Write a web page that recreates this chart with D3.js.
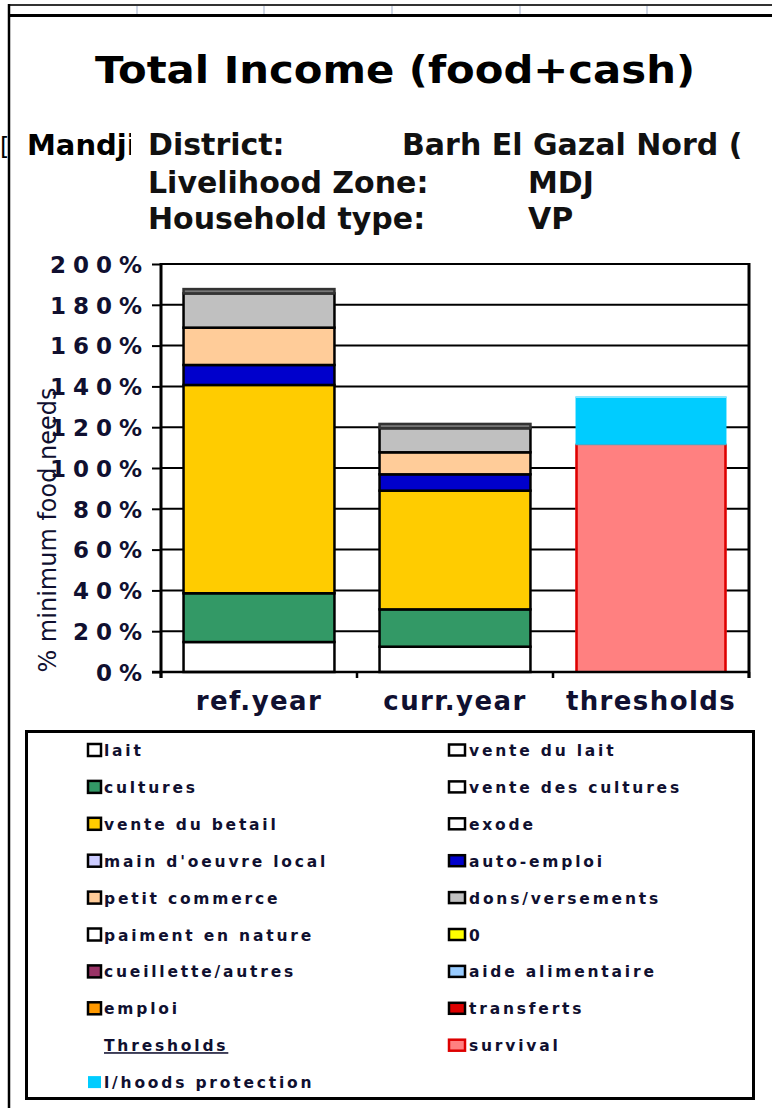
<!DOCTYPE html>
<html><head><meta charset="utf-8">
<script src="https://cdn.jsdelivr.net/npm/d3@7"></script>
<style>body{margin:0;background:#fff} svg{display:block}</style>
</head><body><svg id="c" width="772" height="1108"></svg>
<script>
// ---------- data ----------
const categories = ["ref.year", "curr.year", "thresholds"];
const seriesNames = ["lait", "vente du lait", "cultures", "vente des cultures", "vente du betail", "exode",
  "main d'oeuvre  local", "auto-emploi", "petit commerce", "dons/versements", "paiment en nature", "0",
  "cueillette/autres", "aide alimentaire", "emploi", "transferts", "survival", "l/hoods  protection"];
const seriesColors = ["#FFFFFF", "#FFFFFF", "#339966", "#FFFFFF", "#FFCC00", "#FFFFFF",
  "#CCCCFF", "#0000CC", "#FFCC99", "#C0C0C0", "#FFFFFF", "#FFFF00",
  "#993366", "#99CCFF", "#FF9900", "#DD0000", "#FF8080", "#00CCFF"];
const lait = [0.147, 0.124, 0];
const venteDuLait = [0, 0, 0];
const cultures = [0.239, 0.183, 0];
const venteDesCultures = [0, 0, 0];
const venteDuBetail = [1.021, 0.582, 0];
const exode = [0, 0, 0];
const mainDoeuvre = [0, 0, 0];
const autoEmploi = [0.098, 0.080, 0];
const petitCommerce = [0.183, 0.108, 0];
const donsVersements = [0.168, 0.118, 0];
const paimentNature = [0.021, 0.021, 0];
const zero = [0, 0, 0];
const cueillette = [0, 0, 0];
const aideAlimentaire = [0, 0, 0];
const emploi = [0, 0, 0];
const transferts = [0, 0, 0];
const survival = [0, 0, 1.116];
const lhoodsProtection = [0, 0, 0.234];
const seriesValues = [lait, venteDuLait, cultures, venteDesCultures, venteDuBetail, exode, mainDoeuvre,
  autoEmploi, petitCommerce, donsVersements, paimentNature, zero, cueillette, aideAlimentaire, emploi,
  transferts, survival, lhoodsProtection];
const yTickValues = [0, 0.2, 0.4, 0.6, 0.8, 1.0, 1.2, 1.4, 1.6, 1.8, 2.0];
const title = "Total Income (food+cash)";
const infoLabels = ["District:", "Livelihood Zone:", "Household type:"];
const infoValues = ["Barh El Gazal Nord (", "MDJ", "VP"];
const yTitle = "% minimum food needs";
const thresholdHeader = "Thresholds";

// ---------- drawing ----------
const svg = d3.select("#c");
const FONT = "'DejaVu Sans', Verdana, sans-serif";

// spreadsheet frame
svg.append("line").attr("x1", 9).attr("x2", 772).attr("y1", 5).attr("y2", 5).attr("stroke", "#333").attr("stroke-width", 2);
[137, 264, 392, 520, 647].forEach(x => svg.append("line").attr("x1", x).attr("x2", x).attr("y1", 6).attr("y2", 14).attr("stroke", "#d0d7e5").attr("stroke-width", 2));
svg.append("line").attr("x1", 9).attr("x2", 772).attr("y1", 15.5).attr("y2", 15.5).attr("stroke", "#000").attr("stroke-width", 3);
svg.append("line").attr("x1", 9).attr("x2", 9).attr("y1", 4).attr("y2", 1108).attr("stroke", "#000").attr("stroke-width", 2.5);

// title
svg.append("text").attr("x", 95).attr("y", 83).attr("font-family", FONT).attr("font-weight", "bold")
  .attr("font-size", 37).attr("textLength", 600).attr("lengthAdjust", "spacingAndGlyphs").attr("fill", "#000").text(title);

// info rows
svg.append("defs").append("clipPath").attr("id", "mclip").append("rect").attr("x", 0).attr("y", 120).attr("width", 131).attr("height", 50);
svg.append("text").attr("clip-path", "url(#mclip)").attr("x", 27).attr("y", 155).attr("font-family", FONT)
  .attr("font-weight", "bold").attr("font-size", 29).attr("fill", "#000").text("Mandjia");
svg.append("text").attr("x", 0).attr("y", 155).attr("font-family", FONT).attr("font-size", 24).attr("fill", "#000").text("[");
const rowY = [155, 193, 229];
const valX = [402, 528, 528];
infoLabels.forEach((t, i) => {
  svg.append("text").attr("x", 148).attr("y", rowY[i]).attr("font-family", FONT).attr("font-weight", "bold")
    .attr("font-size", 30).attr("fill", "#111").text(t);
  svg.append("text").attr("x", valX[i]).attr("y", rowY[i]).attr("font-family", FONT).attr("font-weight", "bold")
    .attr("font-size", 30).attr("fill", "#111").text(infoValues[i]);
});

// scales
const x = d3.scaleBand().domain(categories).range([161, 749]).paddingInner(0.23).paddingOuter(0.115);
const y = d3.scaleLinear().domain([0, 2]).range([672, 264]);

// gridlines
svg.append("g").selectAll("line").data(yTickValues.filter(d => d > 0)).join("line")
  .attr("x1", 161).attr("x2", 749).attr("y1", d => y(d)).attr("y2", d => y(d))
  .attr("stroke", "#000").attr("stroke-width", 2);
svg.append("line").attr("x1", 749).attr("x2", 749).attr("y1", y(2) - 1).attr("y2", 678).attr("stroke", "#000").attr("stroke-width", 3);

// stacked bars
const rows = categories.map((c, i) => {
  const o = { cat: c };
  seriesNames.forEach((s, j) => o[s] = seriesValues[j][i]);
  return o;
});
const stack = d3.stack().keys(seriesNames)(rows);
const gBars = svg.append("g");
stack.forEach((layer, j) => {
  const name = seriesNames[j];
  layer.forEach(seg => {
    const h = y(seg[0]) - y(seg[1]);
    if (h <= 0) return;
    const cat = seg.data.cat;
    const fill = (name === "paiment en nature") ? "#777" : seriesColors[j];
    const rect = gBars.append("rect").attr("x", x(cat)).attr("width", x.bandwidth())
      .attr("y", y(seg[1])).attr("height", h).attr("fill", fill);
    if (cat === "thresholds") {
      if (name === "survival") {
        [x(cat) + 1, x(cat) + x.bandwidth() - 1].forEach(xx =>
          gBars.append("line").attr("x1", xx).attr("x2", xx).attr("y1", y(seg[1])).attr("y2", y(seg[0]))
            .attr("stroke", "#DD0000").attr("stroke-width", 2.5));
        gBars.append("line").attr("x1", x(cat)).attr("x2", x(cat) + x.bandwidth()).attr("y1", y(seg[1])).attr("y2", y(seg[1]))
          .attr("stroke", "#5a9fb8").attr("stroke-width", 2);
      } else {
        gBars.append("line").attr("x1", x(cat)).attr("x2", x(cat) + x.bandwidth()).attr("y1", y(seg[1]) + 0.5).attr("y2", y(seg[1]) + 0.5)
          .attr("stroke", "#88e6ff").attr("stroke-width", 2);
      }
    } else {
      rect.attr("stroke", name === "paiment en nature" ? "#333" : "#000").attr("stroke-width", 2.5);
    }
  });
});

// y axis
const yAxis = d3.axisLeft(y).tickValues(yTickValues).tickFormat(d3.format(".0%")).tickSize(9).tickPadding(4);
const gy = svg.append("g").attr("transform", "translate(161,0)").call(yAxis);
gy.select(".domain").remove();
gy.selectAll(".tick line").attr("stroke", "#000").attr("stroke-width", 2);
gy.selectAll(".tick text").attr("x", -12).attr("font-family", FONT).attr("font-weight", "bold")
  .attr("font-size", 23).attr("letter-spacing", 7).attr("fill", "#101030").attr("dy", "0.36em");
svg.append("line").attr("x1", 161).attr("x2", 161).attr("y1", y(2) - 1).attr("y2", 678).attr("stroke", "#000").attr("stroke-width", 3);

// x axis
const xAxis = d3.axisBottom(x).tickSize(0).tickPadding(0);
const gx = svg.append("g").attr("transform", "translate(0,672)").call(xAxis);
gx.select(".domain").remove();
gx.selectAll(".tick text").attr("y", 38).attr("dy", 0).attr("font-family", FONT).attr("font-weight", "bold")
  .attr("font-size", 26).attr("letter-spacing", 1.4).attr("fill", "#101030");
svg.append("line").attr("x1", 152).attr("x2", 750).attr("y1", 672).attr("y2", 672).attr("stroke", "#000").attr("stroke-width", 2.5);
const boundaries = [x.range()[0], ...categories.map(c => x(c) + x.bandwidth() + x.step() * x.paddingInner() / 2).slice(0, 2), x.range()[1]];
svg.append("g").selectAll("line").data(boundaries).join("line")
  .attr("x1", d => d).attr("x2", d => d).attr("y1", 672).attr("y2", 678).attr("stroke", "#000").attr("stroke-width", 2.5);

// y title
svg.append("text").attr("transform", "translate(56,530) rotate(-90)").attr("text-anchor", "middle")
  .attr("font-family", FONT).attr("font-size", 24).attr("fill", "#101030").text(yTitle);

// legend
svg.append("rect").attr("x", 26.5).attr("y", 731.5).attr("width", 727).attr("height", 367)
  .attr("fill", "none").attr("stroke", "#000").attr("stroke-width", 3);
const legendItems = seriesNames.map((n, i) => ({ name: n, color: seriesColors[i], header: false }));
legendItems.splice(16, 0, { name: thresholdHeader, header: true });
const rowStep = 36.9;
legendItems.forEach((it, i) => {
  const col = i % 2, row = Math.floor(i / 2);
  const cy = 750 + row * rowStep;
  const sx = col === 0 ? 88 : 449;
  const tx = col === 0 ? 104 : 469;
  if (!it.header) {
    const w = col === 0 ? 13 : 16, h = col === 0 ? 12 : 11;
    const red = it.name === "survival";
    const noStroke = it.name.startsWith("l/hoods");
    svg.append("rect").attr("x", sx).attr("y", cy - h / 2).attr("width", w).attr("height", h)
      .attr("fill", it.color).attr("stroke", noStroke ? "none" : (red ? "#DD0000" : "#000")).attr("stroke-width", 2.5);
  }
  const t = svg.append("text").attr("x", tx).attr("y", cy + 6).attr("font-family", FONT).attr("font-weight", "bold")
    .attr("font-size", 15.5).attr("letter-spacing", 2.8).attr("fill", "#101030").text(it.name);
  if (it.header) t.attr("text-decoration", "underline");
});
</script></body></html>
